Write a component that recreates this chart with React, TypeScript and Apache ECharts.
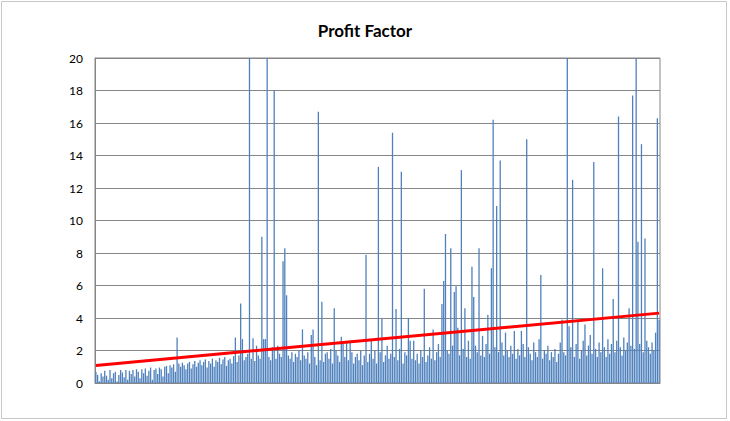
import React, { useEffect, useRef } from "react";
import * as echarts from "echarts";

const title = "Profit Factor";
const yTicks = [0, 2, 4, 6, 8, 10, 12, 14, 16, 18, 20];

const profitFactor: number[] = [
  0.7, 0.5, 0.1, 0.6, 0.4, 0.75, 0.45, 0.2, 0.8, 0.3, 0.6, 0.7, 0.1, 0.5, 0.8, 0.65, 0.35, 0.8, 0.2, 0.75,
  0.55, 0.8, 0.4, 0.85, 0.7, 0.3, 0.85, 0.6, 0.9, 0.45, 0.75, 0.95, 0.2, 0.8, 0.9, 0.55, 0.95, 0.85, 0.4, 1.0,
  1.05, 0.6, 1.1, 0.95, 1.15, 0.7, 2.8, 1.2, 1.0, 1.25, 1.1, 0.85, 1.2, 1.3, 0.9, 1.15, 1.35, 1.0, 1.25, 1.4,
  1.1, 1.3, 1.45, 0.95, 1.35, 1.2, 1.5, 1.0, 1.4, 1.3, 1.55, 1.15, 1.45, 1.6, 1.05, 1.4, 1.5, 1.2, 1.65, 2.8,
  1.3, 1.7, 4.9, 2.7, 1.4, 1.6, 1.8, 20, 1.5, 2.75, 1.35, 2.3, 1.7, 1.5, 9.0, 2.7, 2.7, 20, 1.6, 1.4,
  2.2, 18.0, 1.5, 2.3, 1.8, 1.6, 7.5, 8.3, 5.4, 1.7, 1.5, 1.9, 1.3, 1.8, 1.6, 2.0, 1.4, 3.3, 1.7, 1.5,
  1.9, 1.2, 2.95, 3.3, 1.6, 1.1, 16.7, 1.4, 5.0, 1.3, 1.8, 1.9, 1.5, 2.1, 1.2, 4.6, 2.0, 1.7, 1.3, 2.85,
  2.4, 1.6, 2.5, 1.4, 2.6, 1.9, 1.2, 1.6, 1.8, 1.4, 2.0, 1.1, 1.7, 7.9, 1.3, 1.8, 2.6, 1.5, 2.0, 1.2,
  13.3, 1.9, 3.94, 1.3, 1.7, 2.3, 1.5, 1.8, 15.4, 1.6, 4.55, 1.4, 2.1, 13.0, 1.2, 1.9, 1.7, 4.0, 2.6, 1.5,
  2.6, 1.4, 1.8, 1.2, 2.0, 1.6, 5.8, 1.3, 1.7, 2.2, 1.5, 3.3, 1.4, 1.9, 2.4, 1.6, 4.86, 6.28, 9.17, 2.0,
  1.8, 8.3, 2.3, 5.6, 5.95, 3.4, 1.7, 13.1, 2.1, 4.6, 1.6, 2.6, 1.5, 7.16, 5.3, 2.3, 1.9, 8.3, 1.7, 2.9,
  1.6, 2.4, 4.2, 1.8, 7.06, 16.2, 2.2, 10.9, 1.9, 13.7, 2.5, 1.7, 3.1, 2.0, 1.6, 2.3, 1.8, 3.2, 1.5, 2.1,
  1.7, 3.2, 2.4, 1.6, 15.0, 2.2, 1.8, 1.4, 2.5, 1.9, 1.6, 2.7, 6.65, 1.5, 2.0, 1.8, 2.3, 1.4, 1.9, 1.6,
  2.1, 1.3, 1.8, 2.5, 3.9, 1.9, 1.7, 20, 3.5, 2.2, 12.5, 1.6, 2.4, 3.9, 1.5, 2.0, 2.6, 3.6, 1.7, 2.3,
  2.95, 1.8, 13.6, 2.1, 1.6, 2.5, 1.9, 7.06, 2.2, 1.6, 2.7, 1.8, 2.4, 5.17, 1.9, 2.6, 16.4, 2.2, 1.7, 2.8,
  2.0, 2.5, 4.6, 2.3, 17.7, 2.1, 20, 8.7, 2.4, 14.7, 1.9, 8.9, 2.6, 2.2, 1.8, 2.5, 2.0, 3.1, 16.3, 3.9,
];

const categories: string[] = profitFactor.map((_, i) => String(i + 1));

// linear trendline end values
const trendStart = 1.08;
const trendEnd = 4.3;

export default function App() {
  const ref = useRef<HTMLDivElement>(null);
  useEffect(() => {
    if (!ref.current) return;
    const chart = echarts.init(ref.current, null, { renderer: "svg" });
    chart.setOption({
      animation: false,
      backgroundColor: "#ffffff",
      title: {
        text: title,
        left: "center",
        top: 17,
        textStyle: {
          fontFamily: "Lato",
          fontWeight: "bold",
          fontSize: 17,
          color: "#000000",
        },
      },
      graphic: [
        {
          type: "rect",
          shape: { x: 1.5, y: 1.5, width: 725, height: 417 },
          style: { fill: "none", stroke: "#c8c8c8", lineWidth: 1 },
          silent: true,
          z: -1,
        },
      ],
      grid: {
        left: 95,
        right: 70,
        top: 58,
        bottom: 38,
        show: true,
        borderColor: "#868686",
        borderWidth: 1,
        backgroundColor: "transparent",
      },
      xAxis: {
        type: "category",
        data: categories,
        axisLine: { show: true, lineStyle: { color: "#868686" } },
        axisTick: { show: false },
        axisLabel: { show: false },
        splitLine: { show: false },
      },
      yAxis: {
        type: "value",
        min: yTicks[0],
        max: yTicks[yTicks.length - 1],
        interval: 2,
        axisLine: { show: true, lineStyle: { color: "#868686" } },
        axisTick: { show: false },
        axisLabel: {
          color: "#000000",
          fontFamily: "Lato",
          fontSize: 12,
          margin: 12,
        },
        splitLine: { show: true, lineStyle: { color: "#868686", width: 1 } },
      },
      series: [
        {
          type: "bar",
          data: profitFactor,
          barWidth: 1.3,
          itemStyle: { color: "#4f81bd" },
          markLine: {
            silent: true,
            symbol: ["none", "none"],
            label: { show: false },
            lineStyle: { color: "#ff0000", width: 3, type: "solid" },
            data: [
              [
                { coord: [0, trendStart] },
                { coord: [profitFactor.length - 1, trendEnd] },
              ],
            ],
          },
        },
      ],
    });
    return () => chart.dispose();
  }, []);
  return (
    <div
      ref={ref}
      style={{ position: "fixed", left: 0, top: 0, width: 730, height: 421 }}
    />
  );
}
